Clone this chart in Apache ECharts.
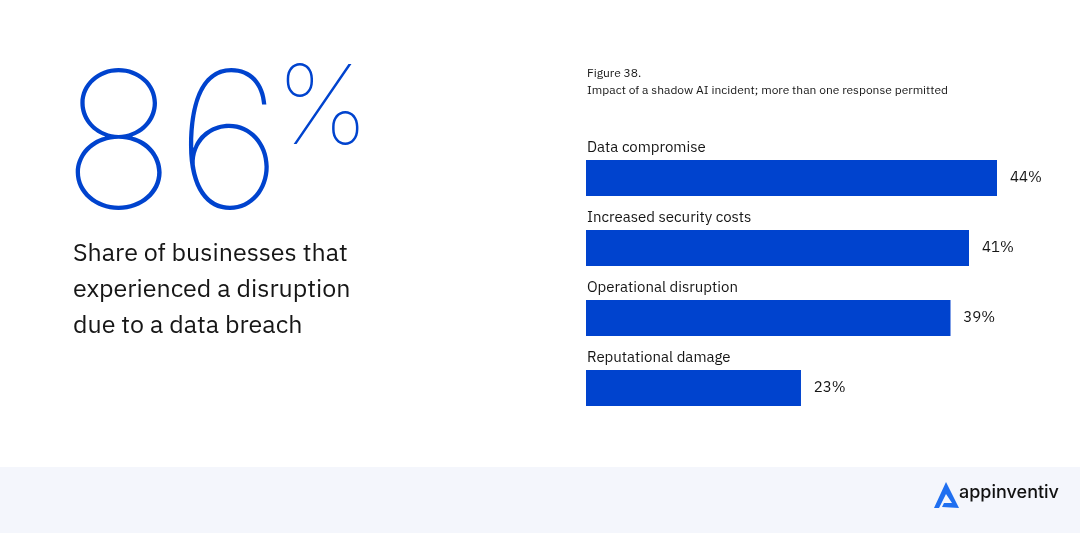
<!DOCTYPE html>
<html><head><meta charset="utf-8">
<script src="https://cdn.jsdelivr.net/npm/echarts@6/dist/echarts.min.js"></script>
<style>html,body{margin:0;padding:0;background:#fff}#main{width:1080px;height:533px}</style>
</head><body><div id="main"></div>
<script>
// 影子AI事件影响
var categories = ['Data compromise', 'Increased security costs', 'Operational disruption', 'Reputational damage'];
var values = [44, 41, 39, 23];
var bigNumber = '86';
var blurbLines = ['Share of businesses that', 'experienced a disruption', 'due to a data breach'];

var blue = '#0043ce';
var myChart = echarts.init(document.getElementById('main'));
var txt = '#161616';
var font = 'IBM Plex Sans, Inter, Noto Sans, sans-serif';

var graphics = [
	{type: 'rect', shape: {x: 0, y: 467, width: 1080, height: 66}, style: {fill: '#f4f6fc'}, silent: true},
	{type: 'text', left: 62, top: 56, style: {text: bigNumber, fontSize: 190, fontWeight: 100, fontFamily: 'Inter', fill: blue}},
	{type: 'text', left: 276, top: 56, style: {text: '%', fontSize: 110, fontWeight: 100, fontFamily: 'Inter', fill: blue}},
	{type: 'text', left: 587, top: 68, style: {text: 'Figure 38.', fontSize: 12, fontFamily: font, fill: txt}},
	{type: 'text', left: 587, top: 85, style: {text: 'Impact of a shadow AI incident; more than one response permitted', fontSize: 12, fontFamily: font, fill: txt}},
	{type: 'polygon', shape: {points: [[946, 482], [934, 508], [939, 508], [946, 494], [952, 503], [944, 503], [942, 507], [959, 508]]}, style: {fill: '#1f6ff0'}},
	{type: 'text', left: 959, top: 484, style: {text: 'appinventiv', fontSize: 18, fontWeight: 500, fontFamily: 'Inter', fill: '#111'}}
];
for (var i = 0; i < blurbLines.length; i++) {
	graphics.push({type: 'text', left: 73, top: 241 + i * 36, style: {text: blurbLines[i], fontSize: 25, fontFamily: font, fill: txt}});
}

option = {
	animation: false,
	graphic: graphics,
	grid: {left: 586, top: 143, width: 411, height: 280},
	xAxis: {type: 'value', min: 0, max: 44, show: false},
	yAxis: {type: 'category', data: categories, inverse: true, show: false},
	series: [
		{
			type: 'bar', data: values, barWidth: 36, itemStyle: {color: blue},
			label: {show: true, position: [1, -20], color: txt, fontSize: 15, fontFamily: font,
				formatter: function(p) { return p.name; }}
		},
		{
			type: 'bar', data: values, barWidth: 36, barGap: '-100%', itemStyle: {color: blue},
			label: {show: true, position: 'right', distance: 13, color: txt, fontSize: 15, fontFamily: font,
				formatter: '{c}%'}
		}
	]
};
myChart.setOption(option);
</script></body></html>
